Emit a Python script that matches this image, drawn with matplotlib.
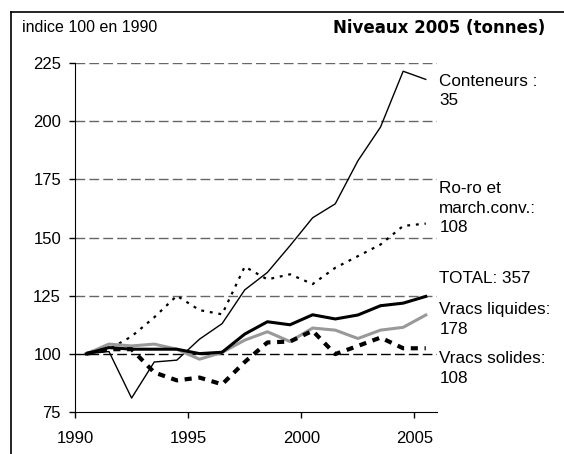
import numpy as np
import matplotlib.pyplot as plt
from matplotlib.lines import Line2D

plt.rcParams['font.family'] = ['Liberation Sans', 'DejaVu Sans']

# Index 100 in 1990
years = np.arange(1990, 2006)
conteneurs = [100, 101, 81, 96.5, 97.3, 106.3, 113, 127.5, 135, 146.5, 158.5, 164.5, 183, 197.5, 221.5, 218]
roro = [100, 102, 107.5, 115.7, 125, 118.8, 117, 137.5, 132, 134.2, 130, 137, 142, 147, 155, 156]
total = [100, 102.7, 102, 102, 102, 100.1, 100.7, 108.5, 113.8, 112.5, 116.8, 115, 116.7, 120.7, 121.8, 124.7]
liquides = [100, 104.2, 103.4, 104.2, 102, 97.7, 100.6, 105.9, 109.5, 105.3, 111.1, 110.2, 106.6, 110.2, 111.4, 116.7]
solides = [100, 102, 102, 92, 88.6, 89.8, 86.9, 96.5, 104.9, 105.3, 109.9, 99.9, 103.4, 107, 102.4, 102.4]

labels = ["Conteneurs :\n35", "Ro-ro et\nmarch.conv.:\n108", "TOTAL: 357",
          "Vracs liquides:\n178", "Vracs solides:\n108"]
label_y = [213, 162.7, 132.2, 114.6, 93.6]

fig = plt.figure(figsize=(5.64, 4.54), dpi=100)
ax = fig.add_axes([0.133, 0.0925, 0.642, 0.7685])

x = years + 0.5  # category axis: points sit in the middle of each year

# gridlines
for v in [125, 150, 175, 200, 225]:
    ax.axhline(v, color='#666666', lw=1, dashes=(7, 3), zorder=1)
ax.axhline(100, color='black', lw=1, dashes=(7, 3), zorder=1)

ax.plot(x, conteneurs, color='black', lw=1.0, zorder=3)
ax.plot(x, roro, color='black', lw=1.6, dashes=(1.3, 2.6), zorder=3)
ax.plot(x, liquides, color='#999999', lw=2.2, zorder=3)
ax.plot(x, total, color='black', lw=2.2, zorder=4)
ax.plot(x, solides, color='black', lw=3.0, dashes=(1.7, 1.6), zorder=3)

ax.set_xlim(1990, 2006)
ax.set_ylim(75, 225)
ax.set_xticks([1990, 1995, 2000, 2005])
ax.set_yticks([75, 100, 125, 150, 175, 200, 225])
ax.tick_params(direction='out', length=4, width=1, labelsize=12)
ax.tick_params(axis='x', pad=10)
ax.tick_params(axis='y', pad=6)
ax.spines['top'].set_visible(False)
ax.spines['right'].set_visible(False)

for txt, yv in zip(labels, label_y):
    ax.text(2006.1, yv, txt, fontsize=12.3, va='center', ha='left',
            linespacing=1.4, clip_on=False)

fig.text(22 / 564, 1 - 28 / 454, "indice 100 en 1990", fontsize=11.5, va='center')
fig.text(545 / 564, 1 - 28 / 454, "Niveaux 2005 (tonnes)", fontsize=12,
         family='DejaVu Sans', fontweight='bold', va='center', ha='right')

# outer frame (cut by the image edges)
fig.add_artist(Line2D([11 / 564, 11 / 564], [0, 1 - 12 / 454], color='black', lw=1.2))
fig.add_artist(Line2D([11 / 564, 1], [1 - 12 / 454, 1 - 12 / 454], color='black', lw=1.2))

fig.savefig("out.png", dpi=100)
